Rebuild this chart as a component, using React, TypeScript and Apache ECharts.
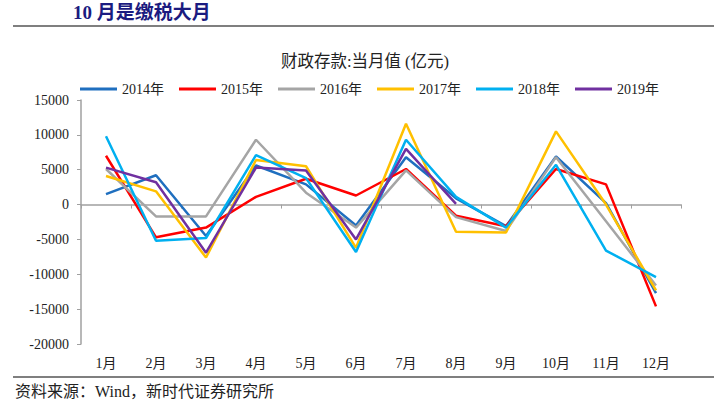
import React, { useEffect, useRef } from "react";
import * as echarts from "echarts";

const months = ["1月", "2月", "3月", "4月", "5月", "6月", "7月", "8月", "9月", "10月", "11月", "12月"];
const years = ["2014年", "2015年", "2016年", "2017年", "2018年", "2019年"];
const colors = ["#1F6FBF", "#FF0000", "#A5A5A5", "#FFC000", "#00B0F0", "#7030A0"];
const v2014 = [1500, 4200, -4500, 5600, 2900, -3000, 6800, 900, -3100, 6900, 200, -12700];
const v2015 = [7000, -4700, -3300, 1100, 3700, 1300, 5100, -1600, -3100, 5100, 2900, -14600];
const v2016 = [5100, -1700, -1700, 9300, 1700, -3300, 4900, -1800, -3800, 6800, -2400, -11600];
const v2017 = [4100, 1900, -7600, 6400, 5500, -6200, 11600, -3900, -4000, 10500, 0, -12300];
const v2018 = [9800, -5200, -4800, 7100, 3800, -6800, 9300, 1100, -3300, 5700, -6600, -10400];
const v2019 = [5300, 3200, -6900, 5300, 4900, -5000, 8000, 100, null, null, null, null];
const seriesValues = [v2014, v2015, v2016, v2017, v2018, v2019];

const yTicks = { min: -20000, max: 15000, interval: 5000 };
const pageTitle = "10 月是缴税大月";
const chartTitle = "财政存款:当月值 (亿元)";
const sourceText = "资料来源：Wind，新时代证券研究所";

const SERIF = "'Liberation Serif', 'Times New Roman', 'Noto Sans CJK SC', serif";

export default function App() {
  const ref = useRef<HTMLDivElement>(null);
  useEffect(() => {
    if (!ref.current) return;
    const chart = echarts.init(ref.current, null, { renderer: "svg" });
    chart.setOption({
      animation: false,
      backgroundColor: "#ffffff",
      color: colors,
      title: {
        text: chartTitle,
        left: 360,
        textAlign: "center",
        top: 48,
        textStyle: { fontFamily: SERIF, fontSize: 16.5, fontWeight: "normal", color: "#222" },
      },
      legend: {
        top: 77,
        left: 75,
        icon: "rect",
        itemWidth: 37,
        itemHeight: 3,
        itemGap: 15,
        textStyle: { fontFamily: SERIF, fontSize: 14, color: "#222" },
        data: years,
      },
      grid: { left: 81, right: 33, top: 100, bottom: 59 },
      xAxis: [
        {
          type: "category",
          data: months,
          boundaryGap: true,
          axisLine: { onZero: true, lineStyle: { color: "#A0A0A0", width: 1.5 } },
          axisTick: { show: true, length: 4, lineStyle: { color: "#A0A0A0" } },
          axisLabel: { show: false },
        },
        {
          type: "category",
          data: months,
          position: "bottom",
          boundaryGap: true,
          axisLine: { show: false, onZero: false },
          axisTick: { show: false },
          axisLabel: { margin: 12, fontFamily: SERIF, fontSize: 14, color: "#222" },
        },
      ],
      yAxis: {
        type: "value",
        min: yTicks.min,
        max: yTicks.max,
        interval: yTicks.interval,
        axisLine: { show: true, lineStyle: { color: "#A0A0A0", width: 1.5 } },
        axisTick: { show: true, length: 4, lineStyle: { color: "#A0A0A0" } },
        splitLine: { show: false },
        axisLabel: {
          margin: 12,
          fontFamily: SERIF,
          fontSize: 14,
          color: "#222",
          formatter: (v: number) => String(v),
        },
      },
      series: years.map((name, i) => ({
        name,
        type: "line",
        xAxisIndex: 0,
        data: seriesValues[i],
        showSymbol: false,
        symbol: "none",
        lineStyle: { width: 2.5, color: colors[i] },
        itemStyle: { color: colors[i] },
      })),
      graphic: [
        {
          type: "text",
          left: 73,
          top: 3,
          style: {
            text: pageTitle,
            font: "bold 19px " + SERIF,
            fill: "#1B1B80",
          },
        },
        {
          type: "line",
          shape: { x1: 13, y1: 26, x2: 714, y2: 26 },
          style: { stroke: "#000", lineWidth: 1.2 },
        },
        {
          type: "line",
          shape: { x1: 13, y1: 377, x2: 714, y2: 377 },
          style: { stroke: "#000", lineWidth: 1.2 },
        },
        {
          type: "text",
          left: 15,
          top: 383,
          style: {
            text: sourceText,
            font: "16px " + SERIF,
            fill: "#222",
          },
        },
      ],
    });
    return () => chart.dispose();
  }, []);
  return (
    <div
      ref={ref}
      style={{ position: "absolute", left: 0, top: 0, width: 714, height: 403 }}
    />
  );
}
